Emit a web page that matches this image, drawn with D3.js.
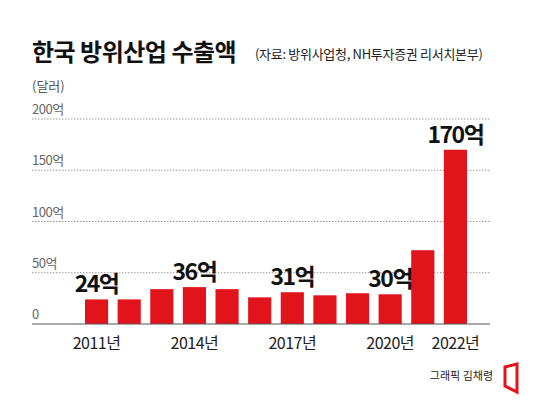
<!DOCTYPE html>
<html><head><meta charset="utf-8">
<script src="https://cdn.jsdelivr.net/npm/d3@7"></script>
<style>body{margin:0;background:#fff;font-family:"Noto Sans CJK KR","Noto Sans",sans-serif}</style>
</head><body><div id="wrapper"></div>
<script>
const years = [2011,2012,2013,2014,2015,2016,2017,2018,2019,2020,2021,2022];
const values = [24,24,34,36,34,26,31,28,30,29,72,170];
const valueLabels = {2011:"24억",2014:"36억",2017:"31억",2020:"30억",2022:"170억"};
const yearTicks = [2011,2014,2017,2020,2022];
const yTicks = [0,50,100,150,200];

const W = 550, H = 402;
const svg = d3.select("#wrapper").append("svg").attr("width", W).attr("height", H);

svg.append("text").attr("x", 32).attr("y", 61).attr("font-size", 24).attr("font-weight", 700)
    .attr("letter-spacing", -0.5).attr("fill", "#111").text("한국 방위산업 수출액");
svg.append("text").attr("x", 255).attr("y", 59).attr("font-size", 13).attr("fill", "#222")
    .attr("letter-spacing", -0.3).text("(자료: 방위사업청, NH투자증권 리서치본부)");
svg.append("text").attr("x", 32).attr("y", 91).attr("font-size", 13).attr("fill", "#555").text("(달러)");

const x = d3.scaleBand().domain(years).range([85, 467]).paddingInner(0.29).paddingOuter(0);
const y = d3.scaleLinear().domain([0, 200]).range([324, 119]);

yTicks.forEach(t => {
    if (t > 0) svg.append("line").attr("x1", 32).attr("x2", 490).attr("y1", y(t)).attr("y2", y(t))
        .attr("stroke", "#999").attr("stroke-dasharray", "1.5,1.5").attr("stroke-width", 1);
    svg.append("text").attr("x", 32).attr("y", y(t) - 5).attr("font-size", 13).attr("fill", "#666")
        .attr("letter-spacing", -0.5).text(t === 0 ? "0" : t + "억");
});

svg.selectAll("rect.bar").data(years).enter().append("rect").attr("class", "bar")
    .attr("x", d => x(d)).attr("width", x.bandwidth())
    .attr("y", (d, i) => y(values[i])).attr("height", (d, i) => y(0) - y(values[i]))
    .attr("fill", "#e1141c");

svg.append("line").attr("x1", 32).attr("x2", 490).attr("y1", y(0)).attr("y2", y(0))
    .attr("stroke", "#555").attr("stroke-width", 1.2);

years.forEach((d, i) => {
    if (valueLabels[d]) svg.append("text").attr("x", x(d) + x.bandwidth() / 2).attr("y", y(values[i]) - 7)
        .attr("text-anchor", "middle").attr("font-size", 23).attr("font-weight", 700)
        .attr("letter-spacing", -1.5).attr("fill", "#111").text(valueLabels[d]);
});

yearTicks.forEach(d => {
    svg.append("text").attr("x", x(d) + x.bandwidth() / 2).attr("y", 349).attr("text-anchor", "middle")
        .attr("font-size", 16).attr("letter-spacing", -0.5).attr("fill", "#222").text(d + "년");
});

svg.append("text").attr("x", 493).attr("y", 380).attr("text-anchor", "end").attr("font-size", 11)
    .attr("fill", "#222").text("그래픽 김채령");
svg.append("path").attr("d", "M505,367 L517,364 L517,392 L505,386 Z")
    .attr("fill", "none").attr("stroke", "#e1141c").attr("stroke-width", 3);
</script></body></html>
